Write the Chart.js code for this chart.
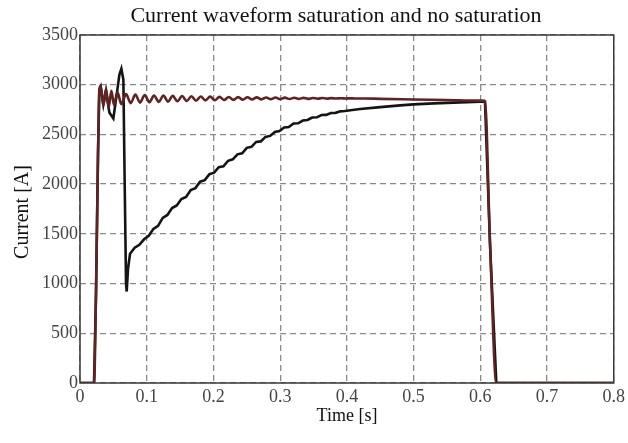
<!DOCTYPE html>
<html>
<head>
<meta charset="utf-8">
<script src="https://cdn.jsdelivr.net/npm/chart.js@4.4.0/dist/chart.umd.min.js"></script>
<style>
  html, body { margin: 0; padding: 0; background: #fff; }
</style>
</head>
<body>
<canvas id="chart" width="628" height="443"></canvas>
<script>
// -------------------- Data --------------------
const xTicks = [0, 0.1, 0.2, 0.3, 0.4, 0.5, 0.6, 0.7, 0.8];
const yTicks = [0, 500, 1000, 1500, 2000, 2500, 3000, 3500];

// no saturation (dark red trace)
const noSatTime = [
  0, 0.021, 0.024, 0.027, 0.029, 0.031, 0.035, 0.039, 0.043, 0.047, 0.051, 0.056, 0.062,
  0.069, 0.076, 0.083, 0.090, 0.097, 0.104, 0.111, 0.118, 0.125, 0.132, 0.139, 0.146,
  0.153, 0.160, 0.167, 0.174, 0.181, 0.188, 0.195, 0.202, 0.209, 0.216, 0.223, 0.230,
  0.237, 0.244, 0.251, 0.258, 0.265, 0.272, 0.279, 0.286, 0.293, 0.300, 0.307, 0.314,
  0.321, 0.328, 0.335, 0.342, 0.349, 0.356, 0.363, 0.370, 0.377, 0.384, 0.391, 0.398,
  0.405, 0.412, 0.419, 0.426,
  0.45, 0.50, 0.55, 0.60, 0.607, 0.6145, 0.624, 0.8
];
const noSatCurrent = [
  0, 0, 900, 2300, 2950, 2990, 2790, 2960, 2770, 2940, 2795, 2925, 2805,
  2905, 2815, 2900, 2820, 2896, 2824, 2892, 2827, 2890, 2830, 2888, 2833,
  2886, 2836, 2884, 2839, 2882, 2842, 2880, 2844, 2878, 2846, 2876, 2848,
  2875, 2850, 2874, 2852, 2873, 2853, 2872, 2854, 2871, 2855, 2870, 2856,
  2869, 2857, 2868, 2858, 2867, 2859, 2866, 2860, 2865, 2861, 2864, 2862,
  2863, 2862, 2862, 2862,
  2858, 2852, 2846, 2840, 2838, 1420, 0, 0
];

// saturation (black trace)
const satTime = [
  0, 0.021, 0.024, 0.027, 0.029, 0.031, 0.035, 0.039, 0.044, 0.050, 0.055, 0.059, 0.062,
  0.065, 0.067, 0.069, 0.070, 0.072, 0.075,
  0.082, 0.089, 0.096, 0.103, 0.110, 0.117, 0.124, 0.131, 0.138, 0.145, 0.152, 0.159,
  0.166, 0.173, 0.180, 0.187, 0.194, 0.201, 0.208, 0.215, 0.222, 0.229, 0.236, 0.243,
  0.250, 0.257, 0.264, 0.271, 0.278, 0.285, 0.292, 0.299, 0.306, 0.313, 0.320, 0.327,
  0.334, 0.341, 0.348, 0.355, 0.362, 0.369, 0.376, 0.383, 0.390, 0.397,
  0.42, 0.45, 0.48, 0.50, 0.53, 0.56, 0.60, 0.607, 0.6145, 0.624, 0.8
];
const satCurrent = [
  0, 0, 900, 2300, 2950, 2980, 2800, 2940, 2720, 2660, 2900, 3100, 3160,
  3050, 2000, 1000, 920, 1150, 1300,
  1360, 1390, 1445, 1480, 1550, 1580, 1660, 1690, 1760, 1785, 1850, 1870,
  1940, 1960, 2025, 2040, 2100, 2115, 2170, 2180, 2235, 2250, 2300, 2310,
  2365, 2375, 2425, 2430, 2475, 2485, 2525, 2535, 2570, 2575, 2610, 2612,
  2640, 2645, 2670, 2672, 2695, 2697, 2715, 2717, 2732, 2735,
  2755, 2775, 2792, 2802, 2812, 2820, 2828, 2828, 1400, 0, 0
];

const toPoints = (ts, vs) => ts.map((t, i) => ({ x: t, y: vs[i] }));

// -------------------- Frame + texts --------------------
const SERIF = "'Liberation Serif', 'DejaVu Serif', serif";

const framePlugin = {
  id: 'frame',
  afterDraw(chart) {
    const { ctx, chartArea: a } = chart;
    ctx.save();
    ctx.strokeStyle = '#3a3a3a';
    ctx.lineWidth = 1.5;
    ctx.strokeRect(a.left, a.top, a.right - a.left, a.bottom - a.top);

    ctx.fillStyle = '#111';
    ctx.textAlign = 'center';
    ctx.textBaseline = 'middle';
    ctx.font = '22px ' + SERIF;
    ctx.fillText('Current waveform saturation and no saturation', 336, 16);

    ctx.font = '18px ' + SERIF;
    ctx.fillText('Time [s]', 347, 416);

    ctx.font = '20px ' + SERIF;
    ctx.translate(23, 212);
    ctx.rotate(-Math.PI / 2);
    ctx.fillText('Current [A]', 0, 0);
    ctx.restore();
  }
};

new Chart(document.getElementById('chart'), {
  type: 'line',
  data: {
    datasets: [
      {
        label: 'Saturation',
        data: toPoints(satTime, satCurrent),
        borderColor: '#141414',
        borderWidth: 2.6,
        pointRadius: 0,
        tension: 0,
        order: 2
      },
      {
        label: 'No saturation',
        data: toPoints(noSatTime, noSatCurrent),
        borderColor: '#5e2424',
        borderWidth: 2.6,
        pointRadius: 0,
        cubicInterpolationMode: 'monotone',
        order: 1
      }
    ]
  },
  options: {
    responsive: false,
    animation: false,
    layout: { padding: { top: 35, right: 14, left: 0, bottom: 0 } },
    plugins: {
      legend: { display: false },
      tooltip: { enabled: false }
    },
    scales: {
      x: {
        type: 'linear',
        min: 0,
        max: 0.8,
        afterFit: s => { s.height = 60; },
        afterBuildTicks: s => { s.ticks = xTicks.map(v => ({ value: v })); },
        ticks: {
          color: '#444',
          font: { family: SERIF, size: 18 },
          padding: 3,
          maxRotation: 0,
          callback: v => (v === 0 ? '0' : v.toFixed(1))
        },
        grid: { color: '#8a8a8a', lineWidth: 1.3, drawTicks: false },
        border: { display: false, dash: [6, 4] }
      },
      y: {
        min: 0,
        max: 3500,
        afterFit: s => { s.width = 80; },
        afterBuildTicks: s => { s.ticks = yTicks.map(v => ({ value: v })); },
        ticks: {
          color: '#444',
          font: { family: SERIF, size: 18 },
          padding: 2,
          callback: v => String(v)
        },
        grid: { color: '#8a8a8a', lineWidth: 1.3, drawTicks: false },
        border: { display: false, dash: [6, 4] }
      }
    }
  },
  plugins: [framePlugin]
});
</script>
</body>
</html>
